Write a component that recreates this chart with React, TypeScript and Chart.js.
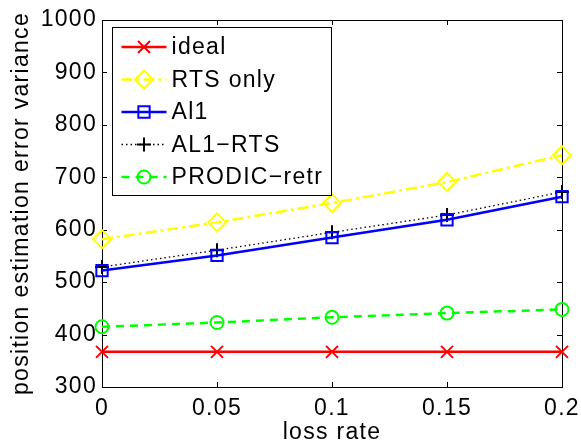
import React, { useEffect, useRef } from 'react';
import { Chart, registerables } from 'chart.js';
import { drawPoint } from 'chart.js/helpers';

Chart.register(...registerables);

const LOSS_RATES = [0, 0.05, 0.1, 0.15, 0.2];
const X_TICK_LABELS = ['0', '0.05', '0.1', '0.15', '0.2'];
const IDEAL = [367, 367, 367, 367, 367];
const RTS_ONLY = [582, 614, 651, 691, 742];
const AL1 = [522, 551, 585, 619, 663];
const AL1_RTS = [529, 561, 595, 628, 672];
const PRODIC_RETR = [415, 423, 433, 441, 448];
const SERIES_NAMES = ['ideal', 'RTS only', 'Al1', 'AL1\u2212RTS', 'PRODIC\u2212retr'];

const FONT_FAMILY = "'Liberation Sans', Arial, sans-serif";
const FONT_SIZE = 23;
const LETTER_SPACING = '1.3px';

const STYLES = [
  { color: '#ff0000', pointStyle: 'crossRot', radius: 8.5, dash: [] as number[], width: 2.5 },
  { color: '#ffff00', pointStyle: 'rectRot', radius: 9, dash: [11, 4, 3, 4], width: 2.5 },
  { color: '#0000ff', pointStyle: 'rect', radius: 8, dash: [] as number[], width: 2.5 },
  { color: '#000000', pointStyle: 'cross', radius: 7, dash: [1.5, 3], width: 1.3 },
  { color: '#00ff00', pointStyle: 'circle', radius: 6.5, dash: [8, 6], width: 2.5 },
];

const SERIES = [IDEAL, RTS_ONLY, AL1, AL1_RTS, PRODIC_RETR];

const spacingPlugin = {
  id: 'spacing',
  beforeLayout(chart: any) { chart.ctx.letterSpacing = LETTER_SPACING; },
  beforeDraw(chart: any) { chart.ctx.letterSpacing = LETTER_SPACING; },
};

const framePlugin = {
  id: 'frame',
  beforeDatasetsDraw(chart: any) {
    const { ctx, chartArea: a, scales } = chart;
    ctx.save();
    ctx.strokeStyle = '#000';
    ctx.lineWidth = 1;
    ctx.setLineDash([]);
    ctx.strokeRect(Math.round(a.left) + 0.5, Math.round(a.top) + 0.5, Math.round(a.right - a.left), Math.round(a.bottom - a.top));
    const tl = 5;
    ctx.beginPath();
    scales.x.ticks.forEach((_t: any, i: number) => {
      const px = Math.round(scales.x.getPixelForTick(i)) + 0.5;
      ctx.moveTo(px, a.bottom); ctx.lineTo(px, a.bottom - tl);
      ctx.moveTo(px, a.top); ctx.lineTo(px, a.top + tl);
    });
    scales.y.ticks.forEach((_t: any, i: number) => {
      const py = Math.round(scales.y.getPixelForTick(i)) + 0.5;
      ctx.moveTo(a.left, py); ctx.lineTo(a.left + tl, py);
      ctx.moveTo(a.right, py); ctx.lineTo(a.right - tl, py);
    });
    ctx.stroke();
    ctx.restore();
  },
};

const legendPlugin = {
  id: 'boxLegend',
  afterDatasetsDraw(chart: any) {
    const { ctx, chartArea: a } = chart;
    const bx = a.left + 10.5;
    const by = a.top + 7.5;
    const bw = 219;
    const bh = 168;
    ctx.save();
    ctx.letterSpacing = LETTER_SPACING;
    ctx.fillStyle = '#fff';
    ctx.fillRect(bx, by, bw, bh);
    ctx.strokeStyle = '#000';
    ctx.lineWidth = 1;
    ctx.setLineDash([]);
    ctx.strokeRect(bx, by, bw, bh);
    chart.data.datasets.forEach((ds: any, i: number) => {
      const st = STYLES[i];
      const y = by + 19.5 + i * 32.5;
      const x0 = bx + 9;
      const x1 = bx + 54;
      ctx.beginPath();
      ctx.strokeStyle = st.color;
      ctx.lineWidth = st.width;
      ctx.setLineDash(st.dash);
      ctx.moveTo(x0, y);
      ctx.lineTo(x1, y);
      ctx.stroke();
      ctx.setLineDash([]);
      ctx.strokeStyle = st.color;
      ctx.fillStyle = 'rgba(0,0,0,0)';
      ctx.lineWidth = 2;
      drawPoint(ctx, { pointStyle: st.pointStyle, radius: st.radius, rotation: 0, borderWidth: 2 } as any, (x0 + x1) / 2, y);
      ctx.fillStyle = '#000';
      ctx.font = `${FONT_SIZE}px ${FONT_FAMILY}`;
      ctx.textBaseline = 'middle';
      ctx.textAlign = 'left';
      ctx.fillText(ds.label, x1 + 5, y + 1);
    });
    ctx.restore();
  },
};

export default function App() {
  const ref = useRef<HTMLCanvasElement | null>(null);
  useEffect(() => {
    if (!ref.current) return;
    const datasets = SERIES.map((vals, i) => {
      const st = STYLES[i];
      return {
        label: SERIES_NAMES[i],
        data: LOSS_RATES.map((x, j) => ({ x, y: vals[j] })),
        borderColor: st.color,
        borderWidth: st.width,
        borderDash: st.dash,
        pointStyle: st.pointStyle,
        pointRadius: st.radius,
        pointBorderWidth: 2,
        pointBorderColor: st.color,
        pointBackgroundColor: 'rgba(0,0,0,0)',
        showLine: true,
        tension: 0,
        clip: false,
      };
    });
    const tickFont = { family: FONT_FAMILY, size: FONT_SIZE };
    const chart = new Chart(ref.current, {
      type: 'scatter',
      data: { datasets } as any,
      plugins: [spacingPlugin, framePlugin, legendPlugin],
      options: {
        animation: false,
        responsive: false,
        devicePixelRatio: 1,
        layout: { padding: { top: 20, right: 19, left: 0, bottom: 0 } },
        plugins: { legend: { display: false }, tooltip: { enabled: false } },
        scales: {
          x: {
            type: 'linear',
            min: 0,
            max: 0.2,
            afterBuildTicks: (s: any) => { s.ticks = LOSS_RATES.map((v) => ({ value: v })); },
            afterFit: (s: any) => { s.height = 59; s.paddingLeft = 0; s.paddingRight = 0; },
            ticks: {
              color: '#000',
              font: tickFont,
              padding: 8,
              maxRotation: 0,
              callback: (_v: any, i: number) => X_TICK_LABELS[i],
            },
            grid: { display: false, drawTicks: false },
            border: { display: false },
            title: { display: true, text: 'loss rate', color: '#000', font: tickFont, padding: { top: 0, bottom: 0 } },
          },
          y: {
            type: 'linear',
            min: 300,
            max: 1000,
            afterFit: (s: any) => { s.width = 102; s.paddingTop = 0; s.paddingBottom = 0; },
            ticks: { color: '#000', font: tickFont, padding: 5, stepSize: 100, callback: (v: any) => String(v) },
            grid: { display: false, drawTicks: false },
            border: { display: false },
            title: { display: true, text: 'position estimation error variance', color: '#000', font: tickFont, padding: { top: 8, bottom: 0 } },
          },
        },
      } as any,
    });
    return () => chart.destroy();
  }, []);
  return (
    <div style={{ position: 'fixed', left: 0, top: 0, width: 581, height: 446, background: '#fff' }}>
      <canvas ref={ref} width={581} height={446} style={{ display: 'block' }} />
    </div>
  );
}
